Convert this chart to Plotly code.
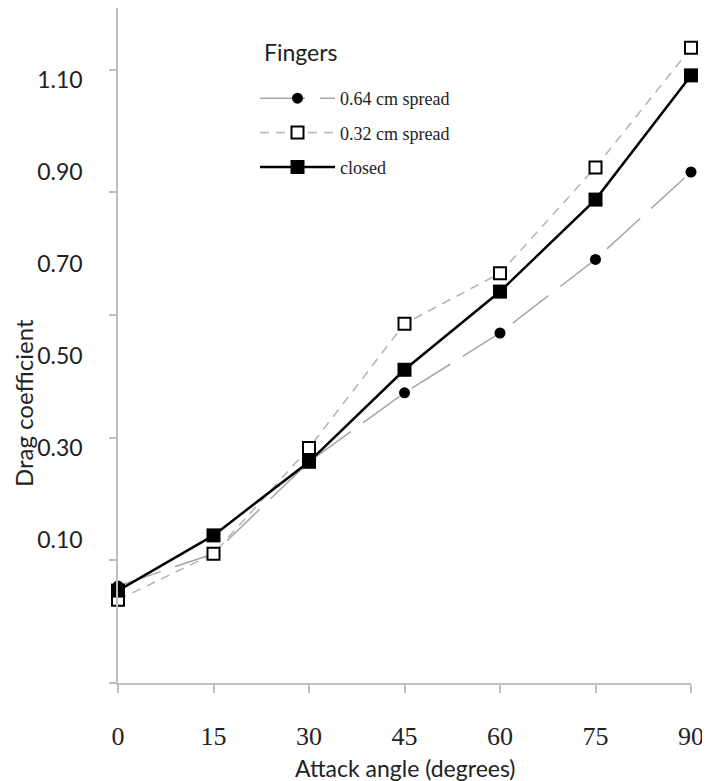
import plotly.graph_objects as go

# ---- data ----
angles = [0, 15, 30, 45, 60, 75, 90]
spread_064 = [0.00, 0.07, 0.27, 0.42, 0.55, 0.71, 0.90]
spread_032 = [-0.03, 0.07, 0.30, 0.57, 0.68, 0.91, 1.17]
closed = [-0.01, 0.11, 0.27, 0.47, 0.64, 0.84, 1.11]

series_names = ["0.64 cm spread", "0.32 cm spread", "closed"]
legend_title = "Fingers"
x_title = "Attack angle (degrees)"
y_title = "Drag coefficient"
y_tick_vals = [0.10, 0.30, 0.50, 0.70, 0.90, 1.10]
y_tick_text = ["0.10", "0.30", "0.50", "0.70", "0.90", "1.10"]
x_tick_vals = [0, 15, 30, 45, 60, 75, 90]

AX = "#bfbfbf"
SANS = "Lato"
SERIF = "Liberation Serif"
OFF = 8  # page body margin offset
W, H = 702, 773
L, R, T, B = 110, 19, 0, 98
PW, PH = W - L - R, H - T - B


def px_x(s):
    return (s - OFF - L) / PW


def px_y(s):
    return 1 - (s - OFF - T) / PH


fig = go.Figure()

fig.add_trace(go.Scatter(
    x=angles, y=spread_064, name=series_names[0], legendgroup="a",
    mode="lines+markers", cliponaxis=False,
    line=dict(color="#a6a6a6", width=1.5, dash="45px,15px"),
    marker=dict(symbol="circle", size=11, color="black"),
))
fig.add_trace(go.Scatter(
    x=angles, y=spread_032, name=series_names[1], legendgroup="b",
    mode="lines+markers", cliponaxis=False,
    line=dict(color="#b3b3b3", width=1.5, dash="9px,7px"),
    marker=dict(symbol="square", size=12, color="white",
                line=dict(color="black", width=2)),
))
fig.add_trace(go.Scatter(
    x=angles, y=closed, name=series_names[2], legendgroup="c",
    mode="lines+markers", cliponaxis=False, yaxis="y2",
    line=dict(color="black", width=2.5),
    marker=dict(symbol="square", size=14, color="black"),
))

y_lo, y_hi = -0.2109, 1.2565

fig.update_layout(
    width=W, height=H,
    margin=dict(l=L, r=R, t=T, b=B),
    paper_bgcolor="white", plot_bgcolor="white",
    showlegend=True,
    legend=dict(
        x=px_x(255), y=px_y(80), xanchor="left", yanchor="top",
        font=dict(family=SERIF, size=18, color="#222"),
        itemwidth=75, tracegroupgap=8, bgcolor="rgba(0,0,0,0)",
    ),
    xaxis=dict(
        range=[0, 90], tickmode="array", tickvals=x_tick_vals, automargin=False,
        ticks="outside", ticklen=8, tickcolor=AX, tickwidth=1.5,
        showline=True, linecolor=AX, linewidth=1.5, showgrid=False, zeroline=False,
        tickfont=dict(family=SERIF, size=26, color="#222"),
        ticklabelstandoff=21,
    ),
    yaxis=dict(
        range=[y_lo, y_hi], tickmode="array", tickvals=y_tick_vals, ticktext=y_tick_text,
        ticks="", showline=True, linecolor=AX, linewidth=1.5, showgrid=False, zeroline=False,
        tickfont=dict(family=SANS, size=23, color="#222"), automargin=False,
        ticklabelstandoff=29,
    ),
    yaxis2=dict(
        range=[y_lo, y_hi], overlaying="y", side="left", anchor="x", automargin=False,
        tickmode="linear", tick0=-0.2105, dtick=0.2665,
        ticks="outside", ticklen=8, tickcolor=AX, tickwidth=1.5,
        showticklabels=False, showline=False, showgrid=False, zeroline=False,
    ),
    annotations=[
        dict(text=legend_title, xref="paper", yref="paper", x=px_x(262), y=px_y(52),
             xanchor="left", yanchor="middle", showarrow=False,
             font=dict(family=SANS, size=23, color="#222")),
        dict(text=x_title, xref="paper", yref="paper", x=px_x(405), y=px_y(768),
             xanchor="center", yanchor="middle", showarrow=False,
             font=dict(family=SANS, size=23, color="#222")),
        dict(text=y_title, xref="paper", yref="paper", x=px_x(24), y=px_y(403),
             xanchor="center", yanchor="middle", showarrow=False, textangle=-90,
             font=dict(family=SANS, size=24, color="#222")),
    ],
)

fig.write_html("out.html")
